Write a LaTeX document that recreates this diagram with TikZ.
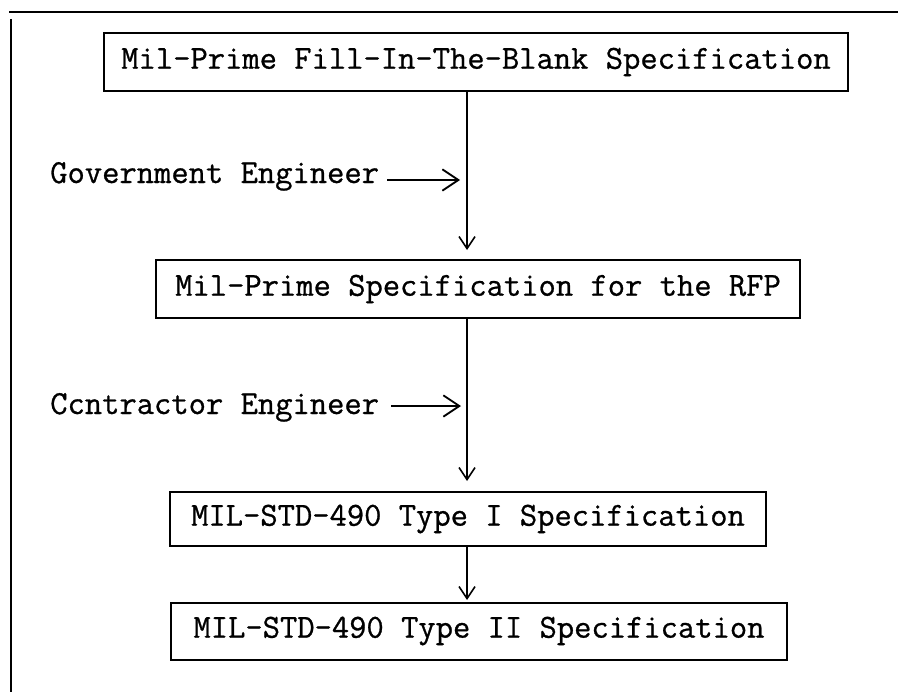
\documentclass[tikz,border=0pt]{standalone}
\usepackage{fontspec}
\newfontfamily\typewfont[FakeBold=0.8]{Latin Modern Mono}
\usetikzlibrary{arrows.meta}
\begin{document}
\begin{tikzpicture}[x=0.75pt,y=-0.75pt,
  every node/.style={font=\typewfont\fontsize{25.2}{28}\selectfont},
  box/.style={draw, line width=1.5pt, inner sep=0pt, align=center},
  frameline/.style={line width=1.5pt},
  flow/.style={line width=1.2pt, -{Straight Barb[length=9pt,width=12pt,line width=1.2pt]}},
  actor/.style={line width=1.6pt, -{Straight Barb[length=12pt,width=16pt,line width=1.4pt]}},
  label/.style={anchor=base west, inner sep=0pt}]
\useasboundingbox (0,0) rectangle (898,692);
% outer frame (top and left sides only, as in the scan)
\coordinate (ftl) at (9,12);
\coordinate (ftr) at (898,12);
\coordinate (fl1) at (11,19);
\coordinate (fl2) at (11,692);
\draw[frameline] (ftl) -- (ftr);
\draw[frameline] (fl1) -- (fl2);
% boxes
\node[box, minimum width=558pt, minimum height=43.5pt] (b1) at (476,62) {Mil-Prime Fill-In-The-Blank Specification};
\node[box, minimum width=483pt, minimum height=43.5pt] (b2) at (478,289) {Mil-Prime Specification for the RFP};
\node[box, minimum width=447pt, minimum height=40.5pt] (b3) at (468,519) {MIL-STD-490 Type I Specification};
\node[box, minimum width=462pt, minimum height=42.75pt] (b4) at (479,631) {MIL-STD-490 Type II Specification};
% labels
\node[label] (gov) at (50,183) {Government Engineer};
\node[label] (con) at (50,414) {Ccntractor Engineer};
% vertical flow
\coordinate (v1s) at (467,91);
\coordinate (v1e) at (467,250);
\coordinate (v2s) at (467,318);
\coordinate (v2e) at (467,481);
\coordinate (v3s) at (467,546);
\coordinate (v3e) at (467,600);
\draw[flow] (v1s) -- (v1e);
\draw[flow] (v2s) -- (v2e);
\draw[flow] (v3s) -- (v3e);
% actor arrows
\coordinate (g1) at (387,180);
\coordinate (g2) at (460,180);
\coordinate (c1) at (391,406);
\coordinate (c2) at (461,406);
\draw[actor] (g1) -- (g2);
\draw[actor] (c1) -- (c2);
\end{tikzpicture}
\end{document}
